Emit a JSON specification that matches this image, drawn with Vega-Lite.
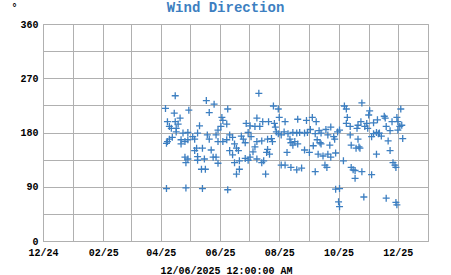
{
  "$schema": "https://vega.github.io/schema/vega-lite/v6.json",
  "width": 385,
  "height": 217,
  "autosize": {"type": "none"},
  "padding": {"left": 43, "top": 24, "right": 23, "bottom": 34},
  "background": "white",
  "title": {
    "text": "Wind Direction",
    "font": "Liberation Mono",
    "fontWeight": "bold",
    "fontSize": 14,
    "color": "#3d7fc1",
    "anchor": "middle",
    "baseline": "alphabetic",
    "dx": -10,
    "offset": -24
  },
  "config": {
    "view": {"stroke": "#b0b0b0", "strokeWidth": 1},
    "axis": {
      "labelFont": "Liberation Mono",
      "labelFontWeight": "bold",
      "labelFontSize": 10,
      "labelColor": "#000000",
      "titleFont": "Liberation Mono",
      "titleFontWeight": "bold",
      "titleColor": "#000000",
      "gridColor": "#b0b0b0",
      "gridOpacity": 1,
      "gridWidth": 1,
      "domainColor": "#b0b0b0",
      "ticks": false
    }
  },
  "data": {
    "values": [
      {"date": "2025-04-16", "dir": 241}, {"date": "2025-04-06", "dir": 220}, {"date": "2025-04-15", "dir": 212},
      {"date": "2025-04-30", "dir": 217}, {"date": "2025-04-21", "dir": 204}, {"date": "2025-04-08", "dir": 198},
      {"date": "2025-04-16", "dir": 198}, {"date": "2025-04-19", "dir": 194}, {"date": "2025-04-10", "dir": 190},
      {"date": "2025-04-12", "dir": 187}, {"date": "2025-04-17", "dir": 187}, {"date": "2025-05-11", "dir": 191},
      {"date": "2025-04-17", "dir": 181}, {"date": "2025-04-24", "dir": 179}, {"date": "2025-04-29", "dir": 180},
      {"date": "2025-05-04", "dir": 173}, {"date": "2025-05-09", "dir": 179}, {"date": "2025-04-13", "dir": 172},
      {"date": "2025-04-10", "dir": 169}, {"date": "2025-04-08", "dir": 165}, {"date": "2025-04-07", "dir": 162},
      {"date": "2025-04-22", "dir": 168}, {"date": "2025-04-26", "dir": 165}, {"date": "2025-04-29", "dir": 168},
      {"date": "2025-04-22", "dir": 161}, {"date": "2025-05-06", "dir": 169}, {"date": "2025-05-08", "dir": 154},
      {"date": "2025-05-06", "dir": 150}, {"date": "2025-05-14", "dir": 154}, {"date": "2025-05-09", "dir": 140},
      {"date": "2025-05-16", "dir": 136}, {"date": "2025-04-26", "dir": 139}, {"date": "2025-04-29", "dir": 136},
      {"date": "2025-04-27", "dir": 130}, {"date": "2025-05-09", "dir": 134}, {"date": "2025-05-13", "dir": 119},
      {"date": "2025-05-17", "dir": 119}, {"date": "2025-04-07", "dir": 87}, {"date": "2025-04-27", "dir": 88},
      {"date": "2025-05-14", "dir": 87},
      {"date": "2025-05-26", "dir": 227}, {"date": "2025-05-21", "dir": 213}, {"date": "2025-05-18", "dir": 233},
      {"date": "2025-06-09", "dir": 219}, {"date": "2025-06-03", "dir": 205}, {"date": "2025-06-04", "dir": 200},
      {"date": "2025-06-08", "dir": 194}, {"date": "2025-06-02", "dir": 190}, {"date": "2025-06-28", "dir": 195},
      {"date": "2025-07-02", "dir": 191}, {"date": "2025-07-09", "dir": 204}, {"date": "2025-07-07", "dir": 190},
      {"date": "2025-05-30", "dir": 184}, {"date": "2025-06-30", "dir": 180}, {"date": "2025-05-19", "dir": 176},
      {"date": "2025-05-21", "dir": 169}, {"date": "2025-05-28", "dir": 176}, {"date": "2025-05-30", "dir": 165},
      {"date": "2025-06-04", "dir": 165}, {"date": "2025-06-08", "dir": 168}, {"date": "2025-06-11", "dir": 176},
      {"date": "2025-06-14", "dir": 172}, {"date": "2025-06-23", "dir": 174}, {"date": "2025-06-25", "dir": 169},
      {"date": "2025-07-03", "dir": 173}, {"date": "2025-07-09", "dir": 165}, {"date": "2025-06-16", "dir": 161},
      {"date": "2025-06-27", "dir": 163}, {"date": "2025-06-18", "dir": 154}, {"date": "2025-06-11", "dir": 150},
      {"date": "2025-06-20", "dir": 150}, {"date": "2025-07-07", "dir": 156}, {"date": "2025-07-05", "dir": 148},
      {"date": "2025-05-23", "dir": 151}, {"date": "2025-05-25", "dir": 139}, {"date": "2025-05-28", "dir": 139},
      {"date": "2025-06-14", "dir": 143}, {"date": "2025-06-27", "dir": 137}, {"date": "2025-06-30", "dir": 134},
      {"date": "2025-06-21", "dir": 133}, {"date": "2025-07-02", "dir": 139}, {"date": "2025-07-09", "dir": 136},
      {"date": "2025-05-30", "dir": 129}, {"date": "2025-06-16", "dir": 130}, {"date": "2025-06-21", "dir": 119},
      {"date": "2025-06-18", "dir": 111}, {"date": "2025-06-09", "dir": 85},
      {"date": "2025-07-11", "dir": 245}, {"date": "2025-07-26", "dir": 224}, {"date": "2025-07-31", "dir": 219},
      {"date": "2025-07-15", "dir": 198}, {"date": "2025-07-21", "dir": 198}, {"date": "2025-07-27", "dir": 195},
      {"date": "2025-08-01", "dir": 205}, {"date": "2025-08-07", "dir": 198}, {"date": "2025-08-20", "dir": 202},
      {"date": "2025-08-29", "dir": 200}, {"date": "2025-07-12", "dir": 190}, {"date": "2025-07-28", "dir": 189},
      {"date": "2025-07-29", "dir": 181}, {"date": "2025-07-31", "dir": 178}, {"date": "2025-08-03", "dir": 176},
      {"date": "2025-08-06", "dir": 181}, {"date": "2025-08-10", "dir": 178}, {"date": "2025-08-15", "dir": 180},
      {"date": "2025-08-19", "dir": 179}, {"date": "2025-08-22", "dir": 180}, {"date": "2025-08-27", "dir": 179},
      {"date": "2025-07-14", "dir": 166}, {"date": "2025-07-20", "dir": 169}, {"date": "2025-07-24", "dir": 170},
      {"date": "2025-07-25", "dir": 165}, {"date": "2025-08-12", "dir": 169}, {"date": "2025-08-13", "dir": 163},
      {"date": "2025-08-17", "dir": 165}, {"date": "2025-08-20", "dir": 161}, {"date": "2025-08-15", "dir": 159},
      {"date": "2025-07-20", "dir": 152}, {"date": "2025-07-22", "dir": 144}, {"date": "2025-07-19", "dir": 147},
      {"date": "2025-08-09", "dir": 147}, {"date": "2025-08-27", "dir": 151}, {"date": "2025-07-16", "dir": 133},
      {"date": "2025-07-14", "dir": 130}, {"date": "2025-08-03", "dir": 126}, {"date": "2025-08-07", "dir": 126},
      {"date": "2025-08-13", "dir": 122}, {"date": "2025-08-19", "dir": 118}, {"date": "2025-08-24", "dir": 121},
      {"date": "2025-07-18", "dir": 111},
      {"date": "2025-08-30", "dir": 180}, {"date": "2025-09-01", "dir": 147}, {"date": "2025-10-07", "dir": 224},
      {"date": "2025-10-09", "dir": 219}, {"date": "2025-09-04", "dir": 205}, {"date": "2025-09-08", "dir": 198},
      {"date": "2025-10-10", "dir": 205}, {"date": "2025-10-09", "dir": 195}, {"date": "2025-10-13", "dir": 190},
      {"date": "2025-10-20", "dir": 187}, {"date": "2025-09-02", "dir": 185}, {"date": "2025-09-11", "dir": 183},
      {"date": "2025-09-18", "dir": 185}, {"date": "2025-09-23", "dir": 189}, {"date": "2025-09-30", "dir": 181},
      {"date": "2025-10-02", "dir": 184}, {"date": "2025-09-07", "dir": 178}, {"date": "2025-09-13", "dir": 179},
      {"date": "2025-09-20", "dir": 176}, {"date": "2025-09-26", "dir": 173}, {"date": "2025-10-13", "dir": 176},
      {"date": "2025-09-09", "dir": 168}, {"date": "2025-09-12", "dir": 163}, {"date": "2025-09-13", "dir": 161},
      {"date": "2025-09-27", "dir": 169}, {"date": "2025-09-05", "dir": 158}, {"date": "2025-09-22", "dir": 159},
      {"date": "2025-10-14", "dir": 159}, {"date": "2025-09-10", "dir": 144}, {"date": "2025-09-15", "dir": 141},
      {"date": "2025-09-20", "dir": 144}, {"date": "2025-09-23", "dir": 139}, {"date": "2025-09-28", "dir": 146},
      {"date": "2025-09-17", "dir": 126}, {"date": "2025-09-19", "dir": 122}, {"date": "2025-10-06", "dir": 133},
      {"date": "2025-09-07", "dir": 115}, {"date": "2025-10-14", "dir": 122}, {"date": "2025-10-16", "dir": 118},
      {"date": "2025-10-18", "dir": 117}, {"date": "2025-10-18", "dir": 104}, {"date": "2025-09-28", "dir": 86},
      {"date": "2025-10-02", "dir": 87}, {"date": "2025-10-01", "dir": 65}, {"date": "2025-10-02", "dir": 57},
      {"date": "2025-10-19", "dir": 154}, {"date": "2025-10-21", "dir": 169}, {"date": "2025-10-21", "dir": 192},
      {"date": "2025-10-25", "dir": 229}, {"date": "2025-11-02", "dir": 216}, {"date": "2025-11-01", "dir": 209},
      {"date": "2025-12-04", "dir": 219}, {"date": "2025-11-17", "dir": 207}, {"date": "2025-11-18", "dir": 204},
      {"date": "2025-11-30", "dir": 205}, {"date": "2025-10-24", "dir": 198}, {"date": "2025-10-30", "dir": 195},
      {"date": "2025-11-06", "dir": 196}, {"date": "2025-11-10", "dir": 201}, {"date": "2025-11-25", "dir": 198},
      {"date": "2025-12-01", "dir": 198}, {"date": "2025-12-05", "dir": 192}, {"date": "2025-10-28", "dir": 190},
      {"date": "2025-10-31", "dir": 187}, {"date": "2025-11-19", "dir": 190}, {"date": "2025-11-23", "dir": 183},
      {"date": "2025-12-01", "dir": 184}, {"date": "2025-12-03", "dir": 190}, {"date": "2025-11-06", "dir": 178},
      {"date": "2025-11-09", "dir": 180}, {"date": "2025-11-11", "dir": 178}, {"date": "2025-11-12", "dir": 179},
      {"date": "2025-11-14", "dir": 174}, {"date": "2025-11-04", "dir": 173}, {"date": "2025-11-21", "dir": 166},
      {"date": "2025-12-06", "dir": 170}, {"date": "2025-10-22", "dir": 156}, {"date": "2025-10-23", "dir": 154},
      {"date": "2025-11-23", "dir": 150}, {"date": "2025-11-09", "dir": 144}, {"date": "2025-11-26", "dir": 130},
      {"date": "2025-11-28", "dir": 126}, {"date": "2025-11-29", "dir": 122}, {"date": "2025-10-25", "dir": 115},
      {"date": "2025-11-04", "dir": 110}, {"date": "2025-10-27", "dir": 73}, {"date": "2025-11-19", "dir": 71},
      {"date": "2025-11-29", "dir": 64}, {"date": "2025-11-30", "dir": 60}
    ]
  },
  "mark": {
    "type": "point",
    "shape": "M-1,0L1,0M0,-1L0,1",
    "size": 49,
    "filled": false,
    "stroke": "#3d7fc1",
    "strokeWidth": 1.3,
    "opacity": 1
  },
  "encoding": {
    "x": {
      "field": "date",
      "type": "temporal",
      "scale": {
        "type": "utc",
        "domain": [
          {"year": 2024, "month": 12, "date": 1, "utc": true},
          {"year": 2026, "month": 1, "date": 1, "utc": true}
        ],
        "nice": false
      },
      "axis": {
        "tickCount": {"interval": "month", "step": 1},
        "labelExpr": "utcmonth(datum.value) % 2 == 1 ? utcFormat(datum.value, '%m/%y') : ''",
        "labelPadding": 6,
        "labelAngle": 0,
        "labelOverlap": false,
        "labelFlush": false,
        "title": "12/06/2025 12:00:00 AM",
        "titleFontSize": 10,
        "titleAnchor": "start",
        "titleAlign": "center",
        "titleBaseline": "alphabetic",
        "titleX": 183,
        "titleY": 32
      }
    },
    "y": {
      "field": "dir",
      "type": "quantitative",
      "scale": {"domain": [0, 360], "nice": false},
      "axis": {
        "values": [0, 45, 90, 135, 180, 225, 270, 315, 360],
        "labelExpr": "datum.value % 90 == 0 ? datum.label : ''",
        "labelPadding": 5,
        "title": "°",
        "titleFontSize": 10,
        "titleAngle": 0,
        "titleAlign": "left",
        "titleBaseline": "alphabetic",
        "titleX": -32,
        "titleY": -14
      }
    }
  }
}
